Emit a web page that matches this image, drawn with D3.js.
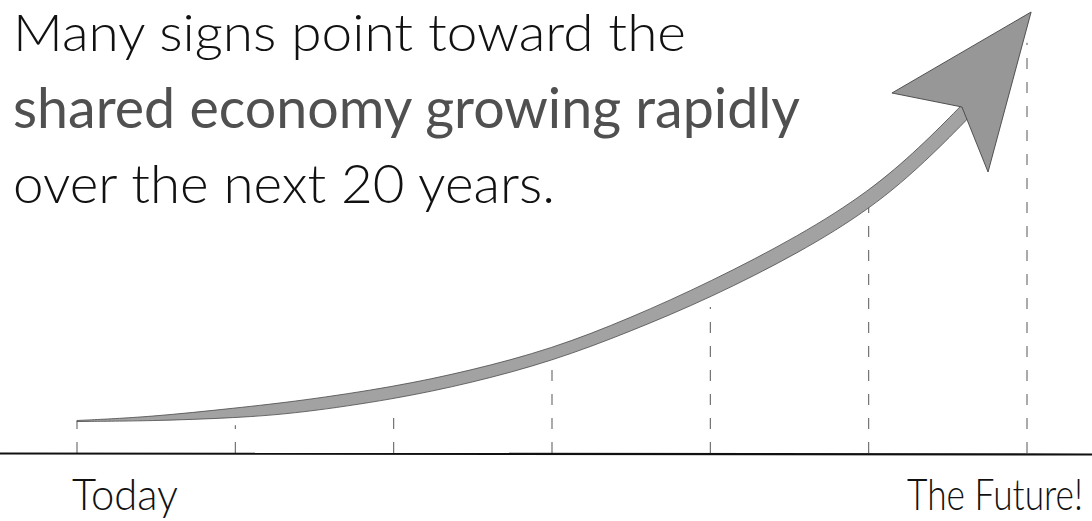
<!DOCTYPE html>
<html>
<head>
<meta charset="utf-8">
<script src="https://cdn.jsdelivr.net/npm/d3@7"></script>
<style>
  html, body { margin: 0; padding: 0; background: #ffffff; }
  svg { display: block; }
</style>
</head>
<body>
<div id="chart"></div>
<script>
// ---------------- data ----------------
const titleLines = [
  "Many signs point toward the",
  "shared economy growing rapidly",
  "over the next 20 years."
];
const ticks = [0, 1, 2, 3, 4, 5, 6];
const tickLabels = ["Today", "", "", "", "", "", "The Future!"];
// height of each dashed drop line (value units, 0..100)
const dropValues = [7.3, 6.3, 10.9, 19.5, 33.1, 55.8, 93.0];
// growth band (arrow shaft): position, upper and lower edges
const curveT     = [0, 0.461, 1.004, 1.408, 2.002, 2.482, 3.0, 3.493, 3.998, 4.566, 5.008, 5.324, 5.589, 5.672];
const curveUpper = [7.37, 8.16, 10.2, 11.8, 15.0, 18.65, 23.6, 30.55, 38.75, 49.3, 59.4, 69.3, 78.9, 82.1];
const curveLower = [7.14, 7.26, 7.95, 9.05, 12.2, 15.8, 20.8, 27.5, 35.15, 45.45, 55.3, 64.9, 74.4, 77.6];
// arrow head: tip, left barb, notch, lower barb
const headT = [6.026, 5.147, 5.589, 5.754];
const headV = [100, 81.63, 78.46, 63.72];

// ---------------- layout ----------------
const W = 1092, H = 521;
const svg = d3.select("#chart").append("svg")
  .attr("width", W).attr("height", H)
  .attr("viewBox", `0 0 ${W} ${H}`);

const x = d3.scaleLinear().domain([0, 6]).range([77, 1027]);
const y = d3.scaleLinear().domain([0, 100]).range([453, 12]);

// title
const titleFont = "'Lato', 'Open Sans', sans-serif";
const titleSpec = [
  { base: 51,  len: 673, size: 51, fill: "#111", weight: 300 },
  { base: 128, len: 787, size: 56, fill: "#505050", weight: 400 },
  { base: 203, len: 542, size: 53, fill: "#111", weight: 300 }
];
svg.append("g").selectAll("text")
  .data(titleLines)
  .join("text")
  .attr("x", 13)
  .attr("y", (d, i) => titleSpec[i].base)
  .attr("textLength", (d, i) => titleSpec[i].len)
  .attr("lengthAdjust", "spacingAndGlyphs")
  .style("font-family", titleFont)
  .style("font-size", (d, i) => titleSpec[i].size + "px")
  .style("font-weight", (d, i) => titleSpec[i].weight)
  .attr("fill", (d, i) => titleSpec[i].fill)
  .text(d => d);

// dashed drop lines
svg.append("g").selectAll("line")
  .data(ticks)
  .join("line")
  .attr("x1", d => x(d)).attr("x2", d => x(d))
  .attr("y1", y(0)).attr("y2", (d, i) => y(dropValues[i]))
  .attr("stroke", "#666")
  .attr("stroke-width", 1.1)
  .attr("stroke-dasharray", "11 13");

// baseline
svg.append("line")
  .attr("x1", 0).attr("x2", W)
  .attr("y1", y(0) + 0.5).attr("y2", y(0) + 1.5)
  .attr("stroke", "#111")
  .attr("stroke-width", 2.2);

// shaft
const band = curveT.map((t, i) => ({ t, hi: curveUpper[i], lo: curveLower[i] }));
const area = d3.area()
  .x(d => x(d.t))
  .y0(d => y(d.lo))
  .y1(d => y(d.hi))
  .curve(d3.curveBasis);
svg.append("path")
  .datum(band)
  .attr("d", area)
  .attr("fill", "#a2a2a2")
  .attr("stroke", "#4a4a4a")
  .attr("stroke-width", 0.8);

// arrow head
const head = headT.map((t, i) => [x(t), y(headV[i])]);
svg.append("path")
  .attr("d", d3.line()(head) + "Z")
  .attr("fill", "#979797")
  .attr("stroke", "#444")
  .attr("stroke-width", 0.9)
  .attr("stroke-linejoin", "miter");

// bottom labels
const labelSpec = {
  0: { dx: -5, len: 106 },
  6: { dx: -120, len: 176 }
};
svg.append("g").selectAll("text")
  .data(ticks.filter((d, i) => tickLabels[i] !== ""))
  .join("text")
  .attr("x", 0)
  .attr("y", 0)
  .attr("transform", d => `translate(${x(d) + labelSpec[d].dx},509.5) scale(1,1.25)`)
  .attr("textLength", d => labelSpec[d].len)
  .attr("lengthAdjust", "spacingAndGlyphs")
  .style("font-family", titleFont)
  .style("font-size", "35px")
  .style("font-weight", 300)
  .attr("fill", "#111")
  .text(d => tickLabels[d]);
</script>
</body>
</html>
